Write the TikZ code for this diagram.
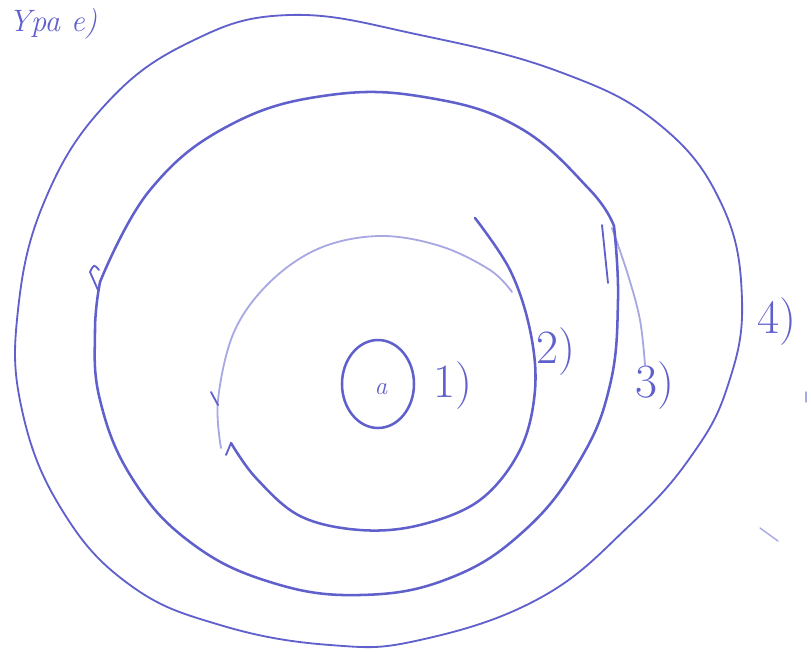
\documentclass[tikz,border=0pt]{standalone}
\usetikzlibrary{arrows.meta}
\definecolor{pen}{RGB}{96,96,204}
\tikzset{
  ink/.style={draw=pen, line width=1.8pt, line cap=round, line join=round},
  thin ink/.style={ink, line width=1.3pt},
  faint/.style={ink, line width=1.3pt, draw opacity=0.55},
  lbl/.style={text=pen, font=\fontsize{34}{34}\selectfont, inner sep=0pt}
}

\begin{document}
\begin{tikzpicture}[x=0.025cm, y=-0.025cm]
    \useasboundingbox (0,0) rectangle (811,653);

    % heading in the corner
    \node[lbl, anchor=north west, font=\fontsize{22}{22}\selectfont\itshape] (title) at (8,8) {Ypa e)};

    % outer ring (4)
    \draw[thin ink] plot[smooth cycle, tension=0.7] coordinates {
        (290,15) (420,35) (560,72) (660,125) (722,205) (742,300) (728,385)
        (692,455) (630,525) (540,598) (420,640) (330,645) (220,625) (130,585)
        (62,510) (22,410) (18,310) (45,200) (105,105) (190,42)};

    % ring (3)
    \draw[ink] plot[smooth, tension=0.7] coordinates {
        (100,282) (150,190) (230,125) (330,95) (430,98) (520,128)
        (590,190) (614,226)};
    \draw[ink] plot[smooth, tension=0.7] coordinates {
        (614,226) (618,300) (610,385) (580,460) (525,530) (450,578)
        (360,595) (270,582) (190,542) (132,478) (100,400) (95,330) (100,282)};
    \draw[thin ink] (98,290) -- (90,272) .. controls (94,264) .. (99,270);
    \draw[thin ink] (602,225) -- (608,283);
    \draw[faint] plot[smooth, tension=0.6] coordinates {
        (612,228) (628,275) (640,320) (645,365)};

    % ring (2)
    \draw[faint] plot[smooth, tension=0.6] coordinates {
        (221,448) (218,400) (234,332) (270,282) (320,248) (380,236)
        (440,246) (490,270) (512,292)};
    \draw[ink] plot[smooth, tension=0.6] coordinates {
        (475,218) (510,270) (530,330) (535,390) (520,450) (480,500)
        (420,525) (360,530) (300,516) (256,478) (231,443)};
    \draw[thin ink] (231,443) -- (226,455);
    \draw[thin ink] (218,405) -- (211,392);

    % ring (1)
    \draw[ink] (378,384) ellipse (36 and 44);
    \node[lbl, font=\fontsize{18}{18}\selectfont\itshape] (core) at (381,389) {a};

    % ring numbers
    \node[lbl] (one)   at (453,386) {1)};
    \node[lbl] (two)   at (556,352) {2)};
    \node[lbl] (three) at (655,386) {3)};
    \node[lbl] (four)  at (777,322) {4)};

    % stray marks
    \draw[faint, line width=1pt] (760,528) -- (778,541);
    \draw[faint, line width=1pt] (806,392) -- (806,402);
\end{tikzpicture}
\end{document}
